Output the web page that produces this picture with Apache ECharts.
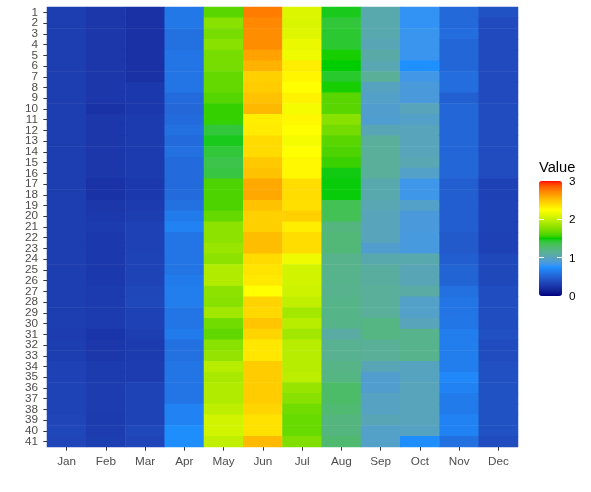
<!DOCTYPE html>
<html><head><meta charset="utf-8">
<style>html,body{margin:0;padding:0;background:#fff}#c{width:591px;height:492px}</style>
<script src="https://cdn.jsdelivr.net/npm/echarts@6/dist/echarts.min.js"></script>
</head><body><div id="c"></div>
<script>
const months = ['Jan','Feb','Mar','Apr','May','Jun','Jul','Aug','Sep','Oct','Nov','Dec'];
const rows = Array.from({length:41},(_, i)=>String(i+1));
const legendTicks = [0,1,2,3];
const Jan=[.30,.30,.30,.30,.30,.30,.30,.30,.30,.30,.30,.30,.30,.30,.30,.30,.30,.30,.30,.30,.30,.30,.30,.30,.30,.30,.30,.30,.30,.30,.29,.30,.30,.32,.32,.33,.33,.33,.34,.35,.34];
const Feb=[.26,.26,.26,.26,.26,.26,.26,.26,.26,.24,.26,.26,.26,.26,.26,.26,.24,.24,.26,.27,.28,.27,.27,.27,.27,.27,.28,.28,.28,.28,.25,.26,.26,.28,.28,.29,.29,.29,.28,.29,.30];
const Mar=[.23,.23,.23,.23,.23,.23,.23,.27,.27,.27,.28,.28,.28,.28,.28,.28,.27,.27,.28,.30,.32,.32,.32,.33,.33,.33,.35,.36,.32,.32,.30,.28,.28,.29,.29,.33,.33,.33,.33,.36,.34];
const Apr=[.62,.62,.58,.58,.60,.60,.60,.60,.55,.53,.55,.58,.55,.58,.55,.55,.55,.55,.58,.64,.68,.60,.60,.60,.60,.64,.65,.65,.60,.60,.64,.58,.58,.60,.60,.60,.60,.68,.68,.74,.74];
const May=[1.63,1.78,1.72,1.78,1.72,1.72,1.66,1.66,1.62,1.55,1.55,1.42,1.47,1.42,1.38,1.40,1.60,1.60,1.60,1.66,1.80,1.80,1.84,1.80,1.93,1.93,1.80,1.78,1.87,1.70,1.65,1.78,1.82,1.95,1.90,1.93,1.93,1.98,2.06,2.06,1.99];
const Jun=[2.76,2.72,2.70,2.70,2.62,2.56,2.44,2.46,2.50,2.54,2.32,2.33,2.40,2.40,2.47,2.50,2.60,2.60,2.50,2.44,2.44,2.52,2.52,2.40,2.36,2.34,2.25,2.43,2.41,2.49,2.42,2.35,2.35,2.46,2.46,2.46,2.46,2.42,2.37,2.37,2.53];
const Jul=[2.10,2.09,2.11,2.16,2.18,2.32,2.29,2.25,2.30,2.21,2.28,2.25,2.21,2.25,2.28,2.28,2.39,2.39,2.38,2.44,2.32,2.39,2.39,2.18,2.06,2.06,2.04,1.99,1.88,1.96,1.87,1.95,1.95,1.95,1.97,1.83,1.78,1.70,1.67,1.67,1.75];
const Aug=[1.47,1.42,1.44,1.44,1.52,1.50,1.45,1.52,1.63,1.63,1.78,1.71,1.63,1.60,1.56,1.48,1.49,1.49,1.35,1.35,1.22,1.24,1.24,1.17,1.17,1.17,1.16,1.18,1.18,1.18,1.08,1.15,1.15,1.19,1.20,1.29,1.29,1.26,1.22,1.22,1.27];
const Sep=[1.05,1.05,1.05,1.02,1.07,1.03,1.13,.98,.95,.93,.92,1.02,1.12,1.12,1.12,1.12,1.05,1.05,1.03,1.00,1.00,1.00,.93,1.05,1.10,1.10,1.12,1.12,1.12,1.20,1.20,1.13,1.13,1.02,.93,.93,.97,.97,1.02,.95,.95];
const Oct=[.79,.79,.81,.81,.81,.75,.84,.88,.88,1.00,.95,1.00,1.00,1.00,1.03,.95,.83,.83,.95,.88,.88,.87,.87,1.05,1.02,1.02,1.08,.95,.95,1.00,1.17,1.17,1.17,.98,.98,1.00,1.00,1.00,1.00,.97,.74];
const Nov=[.54,.54,.56,.52,.52,.52,.56,.56,.49,.52,.52,.52,.52,.52,.52,.52,.48,.48,.48,.48,.48,.45,.45,.48,.51,.51,.58,.60,.60,.61,.65,.65,.65,.65,.71,.68,.64,.64,.68,.68,.58];
const Dec=[.41,.37,.37,.37,.37,.37,.37,.37,.37,.38,.38,.38,.38,.38,.38,.38,.32,.32,.33,.33,.33,.32,.32,.36,.36,.36,.39,.39,.39,.39,.40,.38,.38,.40,.40,.41,.41,.41,.41,.41,.38];
const columns=[Jan,Feb,Mar,Apr,May,Jun,Jul,Aug,Sep,Oct,Nov,Dec];
const scaleColors=['#000080','#1E90FF','#00CD00','#FFFF00','#FF0000'];

function toLab(h){const c=[1,3,5].map(i=>parseInt(h.substr(i,2),16)/255).map(v=>v>.04045?Math.pow((v+.055)/1.055,2.4):v/12.92);
 const X=(.4124*c[0]+.3576*c[1]+.1805*c[2])/.95047,Y=.2126*c[0]+.7152*c[1]+.0722*c[2],Z=(.0193*c[0]+.1192*c[1]+.9505*c[2])/1.08883;
 const f=t=>t>.008856?Math.cbrt(t):7.787*t+16/116;return[116*f(Y)-16,500*(f(X)-f(Y)),200*(f(Y)-f(Z))];}
function fromLab(l){const y=(l[0]+16)/116,x=l[1]/500+y,z=y-l[2]/200;const g=t=>t*t*t>.008856?t*t*t:(t-16/116)/7.787;
 const X=g(x)*.95047,Y=g(y),Z=g(z)*1.08883;
 return '#'+[3.2406*X-1.5372*Y-.4986*Z,-.9689*X+1.8758*Y+.0415*Z,.0557*X-.204*Y+1.057*Z].map(v=>{v=v>.0031308?1.055*Math.pow(v,1/2.4)-.055:12.92*v;
 return Math.round(Math.max(0,Math.min(1,v))*255).toString(16).padStart(2,'0');}).join('');}
const ramp=[];const labs=scaleColors.map(toLab);const steps=16;
for(let s=0;s<labs.length-1;s++)for(let k=0;k<steps;k++){const t=k/steps;ramp.push(fromLab(labs[s].map((v,i)=>v+(labs[s+1][i]-v)*t)));}
ramp.push(scaleColors[4]);

const data=[];columns.forEach((col,x)=>col.forEach((v,y)=>data.push([x,y,v])));
const barLeft=539,barTop=181,barW=23,barH=115;
const graphic=[{type:'text',left:539,top:160,style:{text:'Value',font:'14.67px "Liberation Sans"',fill:'#000'}}];
legendTicks.forEach(t=>{const y=barTop+barH*(1-t/3);
 graphic.push({type:'text',left:569,top:Math.round(y)-5,z:10,style:{text:String(t),font:'11.73px "Liberation Sans"',fill:'#000'}});
 if(t>0&&t<3){[barLeft,barLeft+barW-5].forEach(x=>graphic.push({type:'rect',z:10,shape:{x:x,y:Math.floor(y),width:5,height:1},style:{fill:'#fff'}}));}
});
const chart=echarts.init(document.getElementById('c'),null,{renderer:'canvas'});
chart.setOption({
 animation:false,backgroundColor:'#fff',
 grid:{left:47,top:7,width:471,height:440},
 xAxis:{type:'category',data:months,splitArea:{show:false},axisLine:{show:false},
  axisTick:{show:true,alignWithLabel:true,length:3.65,lineStyle:{color:'#333',width:1}},
  axisLabel:{color:'#4D4D4D',fontFamily:'Liberation Sans',fontSize:11.73,margin:9,interval:0}},
 yAxis:{type:'category',data:rows,inverse:true,splitArea:{show:false},axisLine:{show:false},
  axisTick:{show:true,alignWithLabel:true,length:3.65,lineStyle:{color:'#333',width:1}},
  axisLabel:{color:'#4D4D4D',fontFamily:'Liberation Sans',fontSize:11.73,margin:9,interval:0,padding:[2,0,0,0]}},
 visualMap:{type:'continuous',min:0,max:3,dimension:2,seriesIndex:0,calculable:false,hoverLink:false,realtime:false,
  left:barLeft,top:barTop,itemWidth:barW,itemHeight:barH,padding:0,text:null,showLabel:false,
  textStyle:{color:'transparent',fontSize:1},inRange:{color:ramp}},
 series:[{type:'heatmap',data:data,progressive:0,itemStyle:{borderWidth:0},emphasis:{disabled:true}}],
 graphic:graphic
});
</script></body></html>
